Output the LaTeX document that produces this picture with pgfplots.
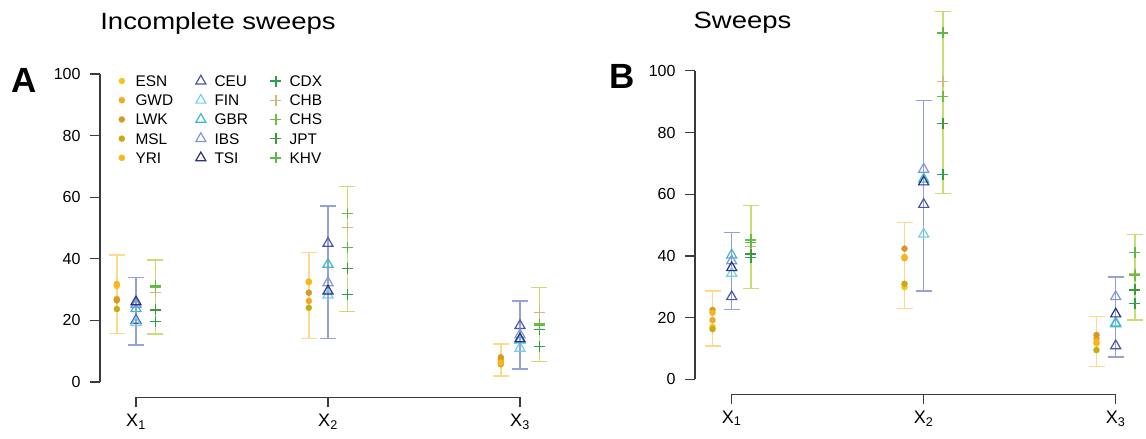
\documentclass[border=0pt]{standalone}
\usepackage{fontspec}
\setmainfont{Liberation Sans}
\newfontfamily\titlefont[FakeStretch=1.17]{Liberation Sans}
\usepackage{pgfplots}
\pgfplotsset{compat=1.18}

\definecolor{cESN}{HTML}{F7C51A}
\definecolor{cGWD}{HTML}{F5A623}
\definecolor{cLWK}{HTML}{D39B25}
\definecolor{cMSL}{HTML}{C9AA10}
\definecolor{cYRI}{HTML}{FBB41C}
\definecolor{cCEU}{HTML}{4A57A8}
\definecolor{cFIN}{HTML}{72D0EA}
\definecolor{cGBR}{HTML}{3CB9CC}
\definecolor{cIBS}{HTML}{7F97D4}
\definecolor{cTSI}{HTML}{2A3182}
\definecolor{cCDX}{HTML}{2E9E48}
\definecolor{cCHB}{HTML}{CBBB7C}
\definecolor{cCHS}{HTML}{6CBF3C}
\definecolor{cJPT}{HTML}{3C9A3C}
\definecolor{cKHV}{HTML}{5EB845}
\definecolor{eAFR}{HTML}{FFD88A}
\definecolor{eEUR}{HTML}{95A2D6}
\definecolor{eEAS}{HTML}{C8DE70}
\definecolor{axgray}{HTML}{3A3A3A}

\pgfplotsset{
  rstyle/.style={
    scale only axis, clip=false,
    axis x line*=bottom, axis y line*=left,
    axis line style={draw=none},
    tick align=outside, major tick length=10pt,
    tick style={draw=axgray, line width=1.2pt},
    xtick={1,2,3},
    xticklabels={X\textsubscript{1},X\textsubscript{2},X\textsubscript{3}},
    ytick={0,20,40,60,80,100},
    /pgf/number format/assume math mode=true,
    yticklabel style={font=\fontsize{16}{18}\selectfont, xshift=-6pt},
    xticklabel style={font=\fontsize{18}{20}\selectfont, yshift=-3pt},
  },
  ebar/.style={forget plot, mark=none, draw=none,
    error bars/.cd, y dir=both, y explicit,
    error bar style={draw=#1, line width=1.4pt},
    error mark options={rotate=90, draw=#1, mark size=8pt, line width=1.4pt}},
  afr/.style={only marks, mark=*, mark size=3pt, color=#1, mark options={draw=#1, fill=#1}},
  eur/.style={only marks, mark=triangle, mark size=5.8pt, color=#1, mark options={line width=1.2pt}},
  eas/.style={only marks, mark=+, mark size=5.5pt, color=#1, mark options={line width=1.4pt}},
}

\begin{document}
\begin{tikzpicture}
\path[use as bounding box] (0,0) rectangle (1146pt,439pt);

% ---------------- Panel A ----------------
\begin{axis}[rstyle, at={(100pt,41.6pt)}, anchor=south west,
  width=456pt, height=338.8pt,
  xmin=0.8125, xmax=3.1875, ymin=-5, ymax=105,
  legend columns=3,
  legend cell align=left,
  legend image code/.code={\path (-5pt,0pt) (12pt,0pt); \draw[#1] plot coordinates {(0pt,0pt)};},
  legend style={at={(0.036,0.955)}, anchor=north west, draw=none, fill=none,
    inner sep=0pt, row sep=5.2pt,
    font=\fontsize{15.4}{17}\selectfont,
    nodes={text height=11pt, text depth=0pt, inner sep=1.5pt},
    /tikz/every even column/.append style={column sep=21pt}},
]
\draw[axgray, line width=1.2pt] (axis cs:0.8125,0) -- (axis cs:0.8125,100);
\draw[axgray, line width=1.2pt] (axis cs:1,-5) -- (axis cs:3,-5);

\addplot[ebar=eAFR] coordinates {(0.9,28.5) +- (0,12.7) (1.9,28.15) +- (0,13.95) (2.9,7.15) +- (0,5.15)};
\addplot[ebar=eEUR] coordinates {(1,23.0) +- (0,11.0) (2,35.65) +- (0,21.45) (3,15.25) +- (0,11.05)};
\addplot[ebar=eEAS] coordinates {(1.1,27.6) +- (0,12.0) (2.1,43.1) +- (0,20.3) (3.1,18.6) +- (0,12.0)};

\addplot[afr=cESN] coordinates {(0.9,31.2) (1.9,32.4) (2.9,7.3)}; \addlegendentry{ESN}
\addplot[eur=cCEU] coordinates {(1,20.0) (2,45.0) (3,18.3)}; \addlegendentry{CEU}
\addplot[eas=cCDX] coordinates {(1.1,19.6) (2.1,28.5) (3.1,11.5)}; \addlegendentry{CDX}
\addplot[afr=cGWD] coordinates {(0.9,27.0) (1.9,26.3) (2.9,6.8)}; \addlegendentry{GWD}
\addplot[eur=cFIN] coordinates {(1,19.3) (2,28.2) (3,10.9)}; \addlegendentry{FIN}
\addplot[eas=cCHB] coordinates {(1.1,29.1) (2.1,50.1) (3.1,22.5)}; \addlegendentry{CHB}
\addplot[afr=cLWK] coordinates {(0.9,26.5) (1.9,29.0) (2.9,8.0)}; \addlegendentry{LWK}
\addplot[eur=cGBR] coordinates {(1,23.8) (2,38.2) (3,13.6)}; \addlegendentry{GBR}
\addplot[eas=cCHS] coordinates {(1.1,30.9) (2.1,54.8) (3.1,18.8)}; \addlegendentry{CHS}
\addplot[afr=cMSL] coordinates {(0.9,23.7) (1.9,24.1) (2.9,5.8)}; \addlegendentry{MSL}
\addplot[eur=cIBS] coordinates {(1,25.2) (2,32.2) (3,15.3)}; \addlegendentry{IBS}
\addplot[eas=cJPT] coordinates {(1.1,23.4) (2.1,36.9) (3.1,17.1)}; \addlegendentry{JPT}
\addplot[afr=cYRI] coordinates {(0.9,31.8) (1.9,32.6) (2.9,6.3)}; \addlegendentry{YRI}
\addplot[eur=cTSI] coordinates {(1,26.0) (2,29.5) (3,14.0)}; \addlegendentry{TSI}
\addplot[eas=cKHV] coordinates {(1.1,31.2) (2.1,43.6) (3.1,18.4)}; \addlegendentry{KHV}
\end{axis}

% ---------------- Panel B ----------------
\begin{axis}[rstyle, at={(695pt,44.7pt)}, anchor=south west,
  width=457.4pt, height=385.1pt,
  xmin=0.8088, xmax=3.1912, ymin=-4.83, ymax=120,
]
\draw[axgray, line width=1.2pt] (axis cs:0.8088,0) -- (axis cs:0.8088,100);
\draw[axgray, line width=1.2pt] (axis cs:1,-4.83) -- (axis cs:3,-4.83);

\addplot[ebar=eAFR] coordinates {(0.9,19.75) +- (0,8.95) (1.9,36.9) +- (0,14.0) (2.9,12.2) +- (0,8.1)};
\addplot[ebar=eEUR] coordinates {(1,35.15) +- (0,12.45) (2,59.55) +- (0,30.95) (3,20.2) +- (0,13.0)};
\addplot[ebar=eEAS] coordinates {(1.1,42.85) +- (0,13.45) (2.1,89.75) +- (0,29.55) (3.1,33.15) +- (0,13.85)};

\addplot[afr=cESN] coordinates {(0.9,17.0) (1.9,29.9) (2.9,11.6)};
\addplot[eur=cCEU] coordinates {(1,26.8) (2,56.7) (3,10.9)};
\addplot[eas=cCDX] coordinates {(1.1,39.5) (2.1,66.4) (3.1,24.6)};
\addplot[afr=cGWD] coordinates {(0.9,19.2) (1.9,39.3) (2.9,13.3)};
\addplot[eur=cFIN] coordinates {(1,34.4) (2,47.1) (3,18.4)};
\addplot[eas=cCHB] coordinates {(1.1,43.0) (2.1,96.6) (3.1,34.3)};
\addplot[afr=cLWK] coordinates {(0.9,22.5) (1.9,42.4) (2.9,14.4)};
\addplot[eur=cGBR] coordinates {(1,40.3) (2,64.9) (3,18.0)};
\addplot[eas=cCHS] coordinates {(1.1,45.2) (2.1,91.7) (3.1,33.8)};
\addplot[afr=cMSL] coordinates {(0.9,16.3) (1.9,31.0) (2.9,9.5)};
\addplot[eur=cIBS] coordinates {(1,38.4) (2,68.1) (3,26.8)};
\addplot[eas=cJPT] coordinates {(1.1,40.6) (2.1,82.9) (3.1,29.0)};
\addplot[afr=cYRI] coordinates {(0.9,21.6) (1.9,39.7) (2.9,12.0)};
\addplot[eur=cTSI] coordinates {(1,36.2) (2,64.0) (3,21.2)};
\addplot[eas=cKHV] coordinates {(1.1,44.4) (2.1,112.3) (3.1,41.2)};
\end{axis}

\node[font=\bfseries\fontsize{35}{40}\selectfont, anchor=base] at (24pt,346pt) {A};
\node[font=\bfseries\fontsize{35}{40}\selectfont, anchor=base] at (622pt,350pt) {B};
\node[font=\titlefont\fontsize{23.5}{27}\selectfont, anchor=base] at (218pt,409.7pt) {Incomplete sweeps};
\node[font=\titlefont\fontsize{23.5}{27}\selectfont, anchor=base] at (742.5pt,410.7pt) {Sweeps};
\end{tikzpicture}
\end{document}
